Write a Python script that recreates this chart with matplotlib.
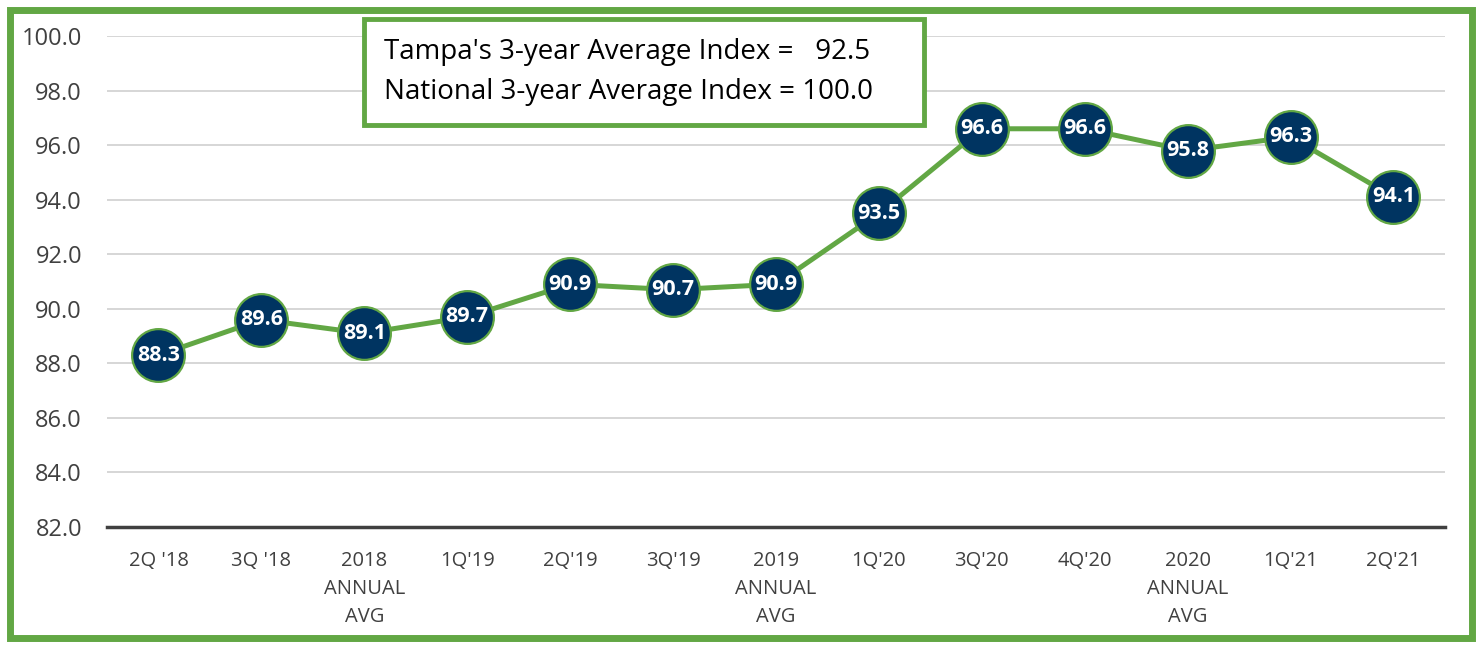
import matplotlib.pyplot as plt
from matplotlib.patches import Rectangle

categories = ["2Q '18", "3Q '18", "2018\nANNUAL\nAVG", "1Q'19", "2Q'19", "3Q'19",
              "2019\nANNUAL\nAVG", "1Q'20", "3Q'20", "4Q'20", "2020\nANNUAL\nAVG",
              "1Q'21", "2Q'21"]
values = [88.3, 89.6, 89.1, 89.7, 90.9, 90.7, 90.9, 93.5, 96.6, 96.6, 95.8, 96.3, 94.1]
yticks = [82, 84, 86, 88, 90, 92, 94, 96, 98, 100]
box_lines = ["Tampa's 3-year Average Index =   92.5",
             "National 3-year Average Index = 100.0"]

green = '#62a744'
navy = '#003461'
grey = '#404040'

plt.rcParams['font.family'] = ['Open Sans', 'DejaVu Sans']

fig = plt.figure(figsize=(14.82, 6.48), dpi=100)
ax = fig.add_axes([0.0722, 0.1867, 0.9028, 0.7577])

x = list(range(len(values)))
ax.plot(x, values, color=green, lw=3.6, zorder=3,
        marker='o', markersize=38, markerfacecolor=navy,
        markeredgecolor=green, markeredgewidth=1.6)
for xi, v in zip(x, values):
    ax.text(xi, v, f'{v:.1f}', color='white', fontsize=15.5, fontweight='bold',
            ha='center', va='center', zorder=4)

ax.set_xlim(-0.5, len(values) - 0.5)
ax.set_ylim(82, 100)
ax.set_yticks(yticks)
ax.set_yticklabels([f'{t:.1f}' for t in yticks], fontsize=17, color=grey)
ax.set_xticks(x)
ax.set_xticklabels(categories, fontsize=14.5, color=grey, linespacing=1.55)
ax.tick_params(axis='both', length=0)
ax.tick_params(axis='y', pad=18)
ax.tick_params(axis='x', pad=17)
ax.yaxis.grid(True, color='#d0d0d0', lw=1.2)
ax.set_axisbelow(True)
for s in ['top', 'right', 'left']:
    ax.spines[s].set_visible(False)
ax.spines['bottom'].set_color(grey)
ax.spines['bottom'].set_linewidth(2.5)

# info box
fig.patches.append(Rectangle((364 / 1482, 1 - 125 / 648), 560 / 1482, 106 / 648,
                             transform=fig.transFigure, facecolor='white',
                             edgecolor=green, lw=3.5, zorder=5))
fig.text(384 / 1482, 1 - 52 / 648, box_lines[0], fontsize=20, color='black',
         va='center', ha='left', zorder=6)
fig.text(384 / 1482, 1 - 92 / 648, box_lines[1], fontsize=20, color='black',
         va='center', ha='left', zorder=6)

# outer green frame
fig.patches.append(Rectangle((10 / 1482, 10 / 648), 1462 / 1482, 628 / 648,
                             transform=fig.transFigure, facecolor='none',
                             edgecolor=green, lw=5, zorder=10))

fig.savefig('out.png', dpi=100)
